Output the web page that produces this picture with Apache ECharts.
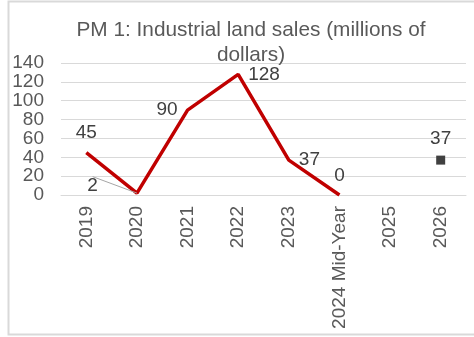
<!DOCTYPE html>
<html><head><meta charset="utf-8">
<script src="https://cdn.jsdelivr.net/npm/echarts@6/dist/echarts.min.js"></script>
<style>html,body{margin:0;padding:0;background:#fff}#c{width:474px;height:337px}</style>
</head><body><div id="c"></div>
<script>
var categories = ['2019','2020','2021','2022','2023','2024 Mid-Year','2025','2026'];
var actualValues = [45, 2, 90, 128, 37, 0, null, null];
var targetValues = [null, null, null, null, null, null, null, 37];
var yTicks = [0, 20, 40, 60, 80, 100, 120, 140];
var titleText = 'PM 1: Industrial land sales (millions of\ndollars)';

var font = 'Liberation Sans, Arial, sans-serif';
var labelPos = ['top','left','left','right','right','top',null,null];
var labelOff = [[0,1],[0,0],[-5,4],[2,3],[5,4],[0,-1],null,null];
var chart = echarts.init(document.getElementById('c'), null, {renderer:'canvas'});
chart.setOption({
  animation:false,
  backgroundColor:'#fff',
  graphic:[{type:'rect', shape:{x:8.5,y:1.5,width:480,height:333}, style:{fill:'none',stroke:'#d9d9d9',lineWidth:2}, silent:true}],
  title:{text:titleText,left:246,top:13,textAlign:'center',
    textStyle:{fontFamily:font,fontSize:20.8,fontWeight:'normal',color:'#595959',lineHeight:25}},
  grid:{left:61,right:8,top:63,bottom:142,containLabel:false},
  xAxis:{type:'category',data:categories,boundaryGap:true,
    axisLine:{lineStyle:{color:'#d9d9d9',width:1}},axisTick:{show:false},
    axisLabel:{rotate:90,margin:11,fontFamily:font,fontSize:19,color:'#595959',interval:0}},
  yAxis:{type:'value',min:0,max:yTicks[yTicks.length-1],interval:20,
    axisLine:{show:false},axisTick:{show:false},
    splitLine:{lineStyle:{color:'#d9d9d9',width:1}},
    axisLabel:{margin:17,fontFamily:font,fontSize:19,color:'#595959',
      formatter:function(v){return yTicks.indexOf(v)>=0?String(v):'';}}},
  series:[
    {type:'line',data:actualValues.map(function(v,i){
        if(v===null) return null;
        var o = {value:v,label:{position:labelPos[i],offset:labelOff[i]}};
        o.labelLine = {show: i===1, lineStyle:{color:'#a6a6a6',width:1}};
        return o;}),
      connectNulls:false,symbol:'circle',symbolSize:0,showSymbol:true,
      lineStyle:{color:'#c00000',width:3.5},itemStyle:{color:'#c00000'},
      label:{show:true,fontFamily:font,fontSize:19,color:'#404040',distance:10},
      labelLine:{show:false},
      labelLayout:function(p){
        if(p.dataIndex===1){return {dx:-29,dy:-7};}
        return {};
      }
    },
    {type:'scatter',data:targetValues,symbol:'rect',symbolSize:9,
      itemStyle:{color:'#404040',opacity:1},
      label:{show:true,position:'top',distance:7,fontFamily:font,fontSize:19,color:'#404040'}}
  ]
});
</script></body></html>
